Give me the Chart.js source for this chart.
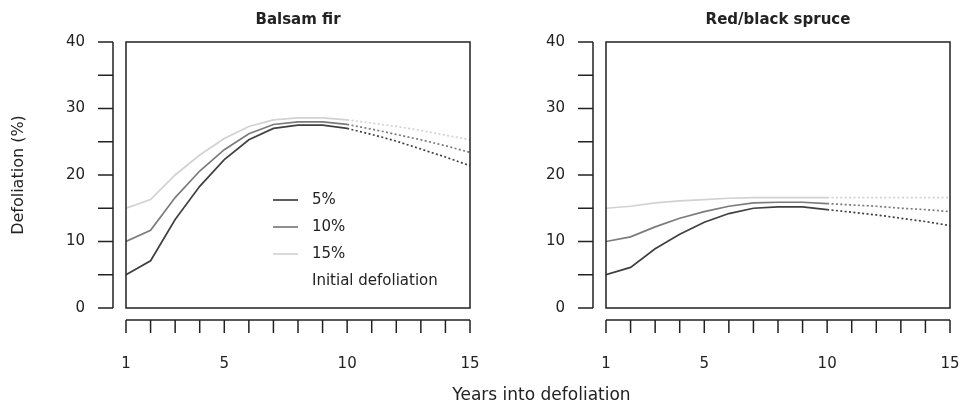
<!DOCTYPE html>
<html>
<head>
<meta charset="utf-8">
<script src="https://cdn.jsdelivr.net/npm/chart.js@4"></script>
<style>
  body { margin: 0; background: #fff; }
  #wrap { position: relative; width: 963px; height: 409px; font-family: 'DejaVu Sans', sans-serif; }
  .panel { position: absolute; top: 0; height: 409px; }
  #xlab { position: absolute; left: 0; width: 1083px; top: 384px; text-align: center; font-size: 17px; color: #222; }
</style>
</head>
<body>
<div id="wrap">
  <div class="panel" style="left:0;width:481px"><canvas id="firChart"></canvas></div>
  <div class="panel" style="left:481px;width:482px"><canvas id="spruceChart"></canvas></div>
  <div id="xlab">Years into defoliation</div>
</div>
<script>
const years = [1, 2, 3, 4, 5, 6, 7, 8, 9, 10, 11, 12, 13, 14, 15];
const seriesLabels = ['5%', '10%', '15%'];
const seriesColors = ['#404040', '#7b7b7b', '#d2d2d2'];
const projectedFrom = 10;

const firLow = [5.0, 7.1, 13.3, 18.3, 22.3, 25.3, 27.0, 27.5, 27.5, 27.0, 26.1, 25.1, 23.9, 22.7, 21.4];
const firMid = [10.0, 11.7, 16.6, 20.6, 23.8, 26.2, 27.6, 28.0, 28.0, 27.6, 26.9, 26.1, 25.3, 24.4, 23.4];
const firHigh = [15.0, 16.3, 20.0, 23.0, 25.5, 27.3, 28.3, 28.6, 28.6, 28.3, 27.8, 27.3, 26.7, 26.0, 25.3];

const spruceLow = [5.0, 6.1, 8.9, 11.1, 12.9, 14.2, 15.0, 15.2, 15.2, 14.8, 14.4, 14.0, 13.5, 13.0, 12.4];
const spruceMid = [10.0, 10.7, 12.2, 13.5, 14.5, 15.3, 15.8, 15.9, 15.9, 15.7, 15.5, 15.3, 15.0, 14.8, 14.5];
const spruceHigh = [15.0, 15.3, 15.8, 16.1, 16.3, 16.5, 16.6, 16.6, 16.6, 16.6, 16.6, 16.6, 16.6, 16.6, 16.6];

const yTicksLabelled = [0, 10, 20, 30, 40];
const xTicksLabelled = [1, 5, 10, 15];

// box round the plot + R-style detached axes
const rAxes = {
  id: 'rAxes',
  afterDraw(chart) {
    const { ctx, chartArea: a, scales: { x, y } } = chart;
    ctx.save();
    ctx.strokeStyle = '#222';
    ctx.lineWidth = 1.5;
    ctx.strokeRect(a.left, a.top, a.right - a.left, a.bottom - a.top);
    ctx.beginPath();
    const ax = a.left - 13;
    ctx.moveTo(ax, y.getPixelForValue(0));
    ctx.lineTo(ax, y.getPixelForValue(40));
    y.ticks.forEach((t) => {
      const p = y.getPixelForValue(t.value);
      ctx.moveTo(ax, p);
      ctx.lineTo(ax - 15, p);
    });
    const ay = a.bottom + 12;
    ctx.moveTo(x.getPixelForValue(1), ay);
    ctx.lineTo(x.getPixelForValue(15), ay);
    x.ticks.forEach((t) => {
      const p = x.getPixelForValue(t.value);
      ctx.moveTo(p, ay);
      ctx.lineTo(p, ay + 13);
    });
    ctx.stroke();
    ctx.restore();
  },
};

const boxLegend = {
  id: 'boxLegend',
  afterDraw(chart, args, opts) {
    if (!opts.show) return;
    const { ctx } = chart;
    ctx.save();
    ctx.font = '15px "DejaVu Sans"';
    ctx.textBaseline = 'middle';
    ctx.fillStyle = '#222';
    chart.data.datasets.forEach((ds, i) => {
      const yy = 200 + i * 27;
      ctx.strokeStyle = ds.borderColor;
      ctx.lineWidth = 1.7;
      ctx.beginPath();
      ctx.moveTo(273, yy);
      ctx.lineTo(298, yy);
      ctx.stroke();
      ctx.fillText(ds.label, 312, yy);
    });
    ctx.fillText('Initial defoliation', 312, 200 + 3 * 27);
    ctx.restore();
  },
};

function makeDatasets(rows) {
  return rows.map((vals, i) => ({
    label: seriesLabels[i],
    data: years.map((yr, j) => ({ x: yr, y: vals[j] })),
    borderColor: seriesColors[i],
    borderWidth: 1.7,
    pointRadius: 0,
    tension: 0,
    segment: {
      borderDash: (c) => (c.p0.parsed.x >= projectedFrom ? [2, 2.4] : undefined),
    },
  }));
}

function makeChart(id, title, rows, yWidth, padRight, showYTitle, showLegend) {
  return new Chart(document.getElementById(id), {
    type: 'line',
    data: { datasets: makeDatasets(rows) },
    options: {
      responsive: true,
      maintainAspectRatio: false,
      animation: false,
      layout: { padding: { left: 0, right: padRight, top: 0, bottom: 0 } },
      scales: {
        x: {
          type: 'linear',
          min: 1,
          max: 15,
          grid: { display: false, drawTicks: false },
          border: { display: false },
          afterFit: (s) => {
            s.height = 101;
            s.paddingLeft = 0;
            s.paddingRight = 0;
          },
          ticks: {
            stepSize: 1,
            autoSkip: false,
            maxRotation: 0,
            padding: 47,
            color: '#222',
            font: { family: 'DejaVu Sans', size: 15 },
            callback: (v) => (xTicksLabelled.includes(v) ? v : ''),
          },
        },
        y: {
          min: 0,
          max: 40,
          grid: { display: false, drawTicks: false },
          border: { display: false },
          afterFit: (s) => {
            s.width = yWidth;
            s.paddingTop = 0;
            s.paddingBottom = 0;
          },
          title: {
            display: showYTitle,
            text: 'Defoliation (%)',
            color: '#222',
            padding: { top: 9 },
            font: { family: 'DejaVu Sans', size: 16 },
          },
          ticks: {
            stepSize: 5,
            autoSkip: false,
            padding: 41,
            color: '#222',
            font: { family: 'DejaVu Sans', size: 15 },
            callback: (v) => (yTicksLabelled.includes(v) ? v : ''),
          },
        },
      },
      plugins: {
        legend: { display: false },
        tooltip: { enabled: false },
        title: {
          display: true,
          text: title,
          fullSize: false,
          color: '#222',
          padding: { top: 11, bottom: 13 },
          font: { family: 'DejaVu Sans', size: 15, weight: 'bold' },
        },
        boxLegend: { show: showLegend },
      },
    },
    plugins: [rAxes, boxLegend],
  });
}

makeChart('firChart', 'Balsam fir', [firLow, firMid, firHigh], 126, 11, true, true);
makeChart('spruceChart', 'Red/black spruce', [spruceLow, spruceMid, spruceHigh], 125, 13, false, false);
</script>
</body>
</html>
